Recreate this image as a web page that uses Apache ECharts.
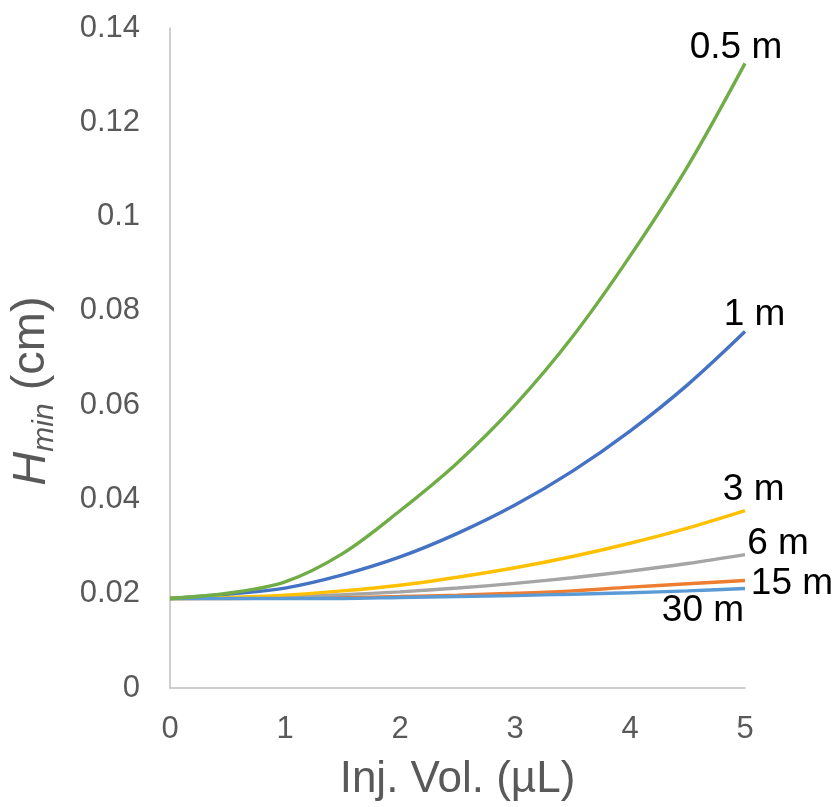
<!DOCTYPE html>
<html>
<head>
<meta charset="utf-8">
<script src="https://cdn.jsdelivr.net/npm/echarts@6/dist/echarts.min.js"></script>
<style>
html,body{margin:0;padding:0;background:#fff;}
#chart{width:839px;height:807px;}
</style>
</head>
<body>
<div id="chart"></div>
<script>
// Injection volume (µL)
const xVals = [0, 0.5, 1, 1.5, 2, 2.5, 3, 3.5, 4, 4.5, 5];
// Hmin (cm) for each column length
const h05m = [0.019, 0.0201, 0.0225, 0.0285, 0.0376, 0.0478, 0.0600, 0.0745, 0.0916, 0.1106, 0.1325];
const h1m  = [0.019, 0.0199, 0.0212, 0.0240, 0.0278, 0.0328, 0.0388, 0.0460, 0.0545, 0.0643, 0.0756];
const h3m  = [0.019, 0.0192, 0.0197, 0.0206, 0.0218, 0.0235, 0.0255, 0.0279, 0.0307, 0.0339, 0.0376];
const h6m  = [0.019, 0.0191, 0.0194, 0.0198, 0.0204, 0.0212, 0.0222, 0.0234, 0.0248, 0.0264, 0.0283];
const h15m = [0.019, 0.0190, 0.0191, 0.0192, 0.0194, 0.0197, 0.0201, 0.0206, 0.0214, 0.0221, 0.0228];
const h30m = [0.019, 0.0190, 0.0190, 0.0190, 0.0192, 0.0194, 0.0196, 0.0199, 0.0202, 0.0206, 0.0211];
const seriesNames = ['1 m', '15 m', '6 m', '3 m', '30 m', '0.5 m'];
const xTicks = [0, 1, 2, 3, 4, 5];
const yTicks = [0, 0.02, 0.04, 0.06, 0.08, 0.1, 0.12, 0.14];

const seriesData = {'0.5 m': h05m, '1 m': h1m, '3 m': h3m, '6 m': h6m, '15 m': h15m, '30 m': h30m};
const colors = {'1 m': '#4472C4', '15 m': '#ED7D31', '6 m': '#A5A5A5', '3 m': '#FFC000', '30 m': '#5B9BD5', '0.5 m': '#70AD47'};
const labelOffsets = {
  '0.5 m': [-9, -16], '1 m': [9.5, -16.7], '3 m': [8.7, -21], '6 m': [33, -10.7],
  '15 m': [47, 3.5], '30 m': [-42, 22.5]
};
const FONT = 'Liberation Sans, Arial, sans-serif';
const AX = '#595959';

const series = seriesNames.map(function (name) {
  const ys = seriesData[name];
  const data = xVals.map(function (x, i) { return [x, ys[i]]; });
  const last = data[data.length - 1];
  return {
    name: name,
    type: 'line',
    data: data,
    smooth: 0.35,
    showSymbol: false,
    symbol: 'none',
    lineStyle: {color: colors[name], width: 3.4},
    itemStyle: {color: colors[name]},
    silent: true,
    markPoint: {
      symbol: 'circle',
      symbolSize: 1,
      silent: true,
      animation: false,
      itemStyle: {color: 'rgba(0,0,0,0)'},
      data: [{
        coord: last,
        label: {
          show: true, formatter: name, position: 'inside',
          offset: labelOffsets[name], align: 'center', verticalAlign: 'middle',
          color: '#000', fontSize: 37, fontFamily: FONT
        }
      }]
    }
  };
});

const chart = echarts.init(document.getElementById('chart'), null, {renderer: 'canvas'});
chart.setOption({
  animation: false,
  backgroundColor: '#fff',
  grid: {left: 167.5, right: 94, top: 28, bottom: 117, containLabel: false},
  xAxis: {
    type: 'value', min: xTicks[0], max: xTicks[xTicks.length - 1], interval: 1,
    axisLine: {show: true, lineStyle: {color: '#BFBFBF', width: 1.5}},
    axisTick: {show: false},
    splitLine: {show: false},
    axisLabel: {color: AX, fontSize: 31, fontFamily: FONT, margin: 26},
    name: 'Inj. Vol. (µL)', nameLocation: 'middle', nameGap: 70,
    nameTextStyle: {color: AX, fontSize: 44, fontFamily: FONT}
  },
  yAxis: {
    type: 'value', min: yTicks[0], max: yTicks[yTicks.length - 1], interval: 0.02,
    axisLine: {show: true, lineStyle: {color: '#BFBFBF', width: 1.5}},
    axisTick: {show: false},
    splitLine: {show: false},
    axisLabel: {color: AX, fontSize: 31, fontFamily: FONT, margin: 30,
      formatter: function (v) { return String(+v.toFixed(2)); }},
    name: '{h|H}{s|min}{n| (cm)}', nameLocation: 'middle', nameGap: 110,
    nameTextStyle: {
      color: AX, fontFamily: FONT, padding: [0, 66, 0, 0],
      rich: {
        h: {fontSize: 47, fontStyle: 'italic', color: AX, fontFamily: FONT, lineHeight: 52, verticalAlign: 'top'},
        s: {fontSize: 30, fontStyle: 'italic', color: AX, fontFamily: FONT, lineHeight: 24, verticalAlign: 'bottom'},
        n: {fontSize: 47, color: AX, fontFamily: FONT, lineHeight: 52, verticalAlign: 'top'}
      }
    }
  },
  series: series
});
</script>
</body>
</html>
